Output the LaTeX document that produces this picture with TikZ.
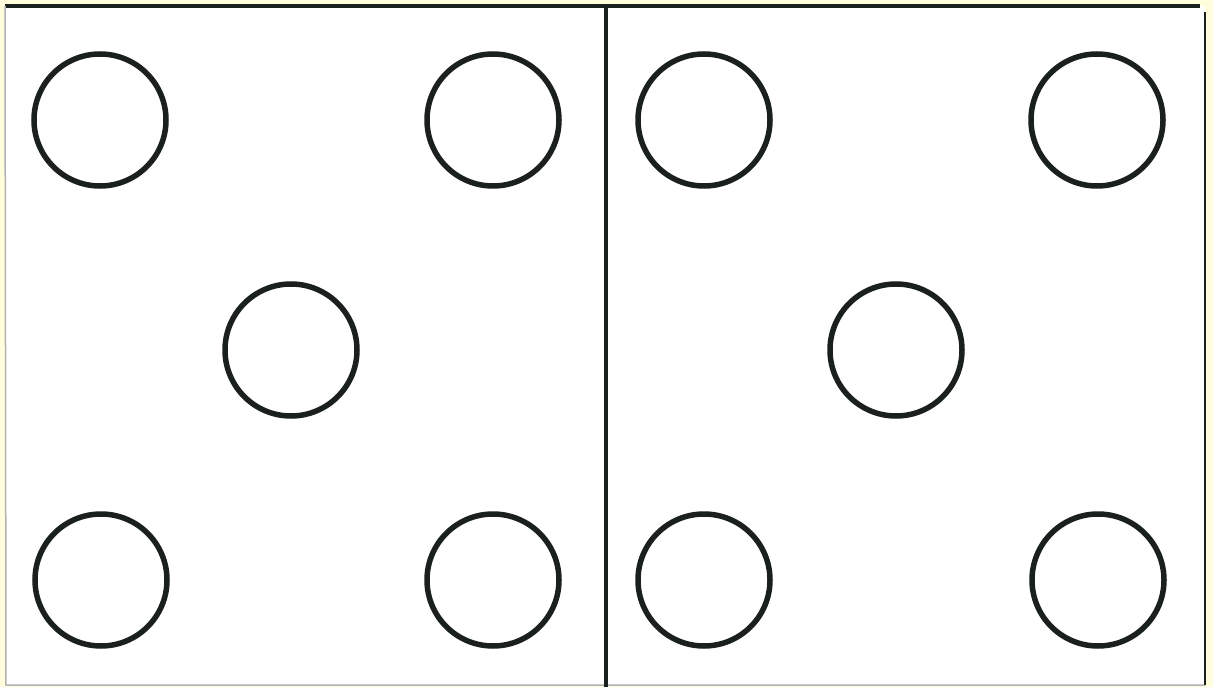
\documentclass[tikz,border=0pt]{standalone}
\usepackage{tikz}
\usetikzlibrary{positioning}
\usepackage{xcolor}
\definecolor{paper}{HTML}{FFFDDC}
\definecolor{ink}{HTML}{1A201E}

\begin{document}
\begin{tikzpicture}[
    x=1pt, y=-1pt,
    pip/.style={draw=ink, circle, line width=5.5pt, minimum size=132pt, inner sep=0pt},
    edge/.style={draw=ink, line width=4.5pt}
  ]
  \useasboundingbox[fill=paper] (0,0) rectangle (1213,687);
  \fill[white] (6,6) rectangle (1205,685);
  % frame
  \coordinate (tl) at (5,6);
  \coordinate (tr) at (1200,6);
  \coordinate (bl) at (6,685);
  \coordinate (br) at (1205,685);
  \coordinate (rt) at (1205,12);
  \coordinate (mt) at (606,6);
  \coordinate (mb) at (606,687);
  \draw[edge] (tl) -- (tr);
  \draw[gray!60, line width=1.5pt] (tl) -- (bl) -- (br);
  \draw[ink, line width=2pt] (rt) -- (br);
  \draw[edge] (mt) -- (mb);
  % left half
  \node[pip] (lTL) at (100,120) {};
  \node[pip] (lTR) at (493,120) {};
  \node[pip] (lMid) at (291,350) {};
  \node[pip] (lBL) at (101,580) {};
  \node[pip] (lBR) at (493,580) {};
  % right half
  \node[pip] (rTL) at (704,120) {};
  \node[pip] (rTR) at (1097,120) {};
  \node[pip] (rMid) at (896,350) {};
  \node[pip] (rBL) at (704,580) {};
  \node[pip] (rBR) at (1098,580) {};
\end{tikzpicture}
\end{document}
